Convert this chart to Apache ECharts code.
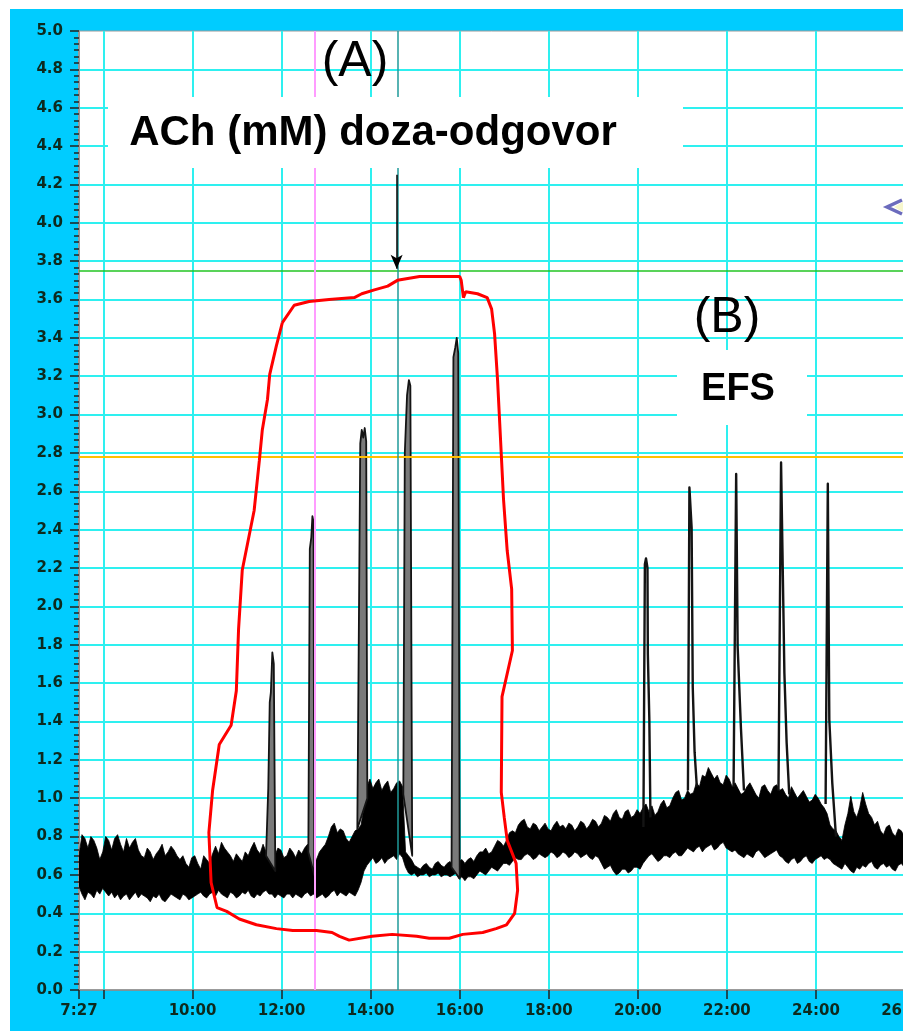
<!DOCTYPE html>
<html>
<head>
<meta charset="utf-8">
<script src="https://cdn.jsdelivr.net/npm/echarts@6/dist/echarts.min.js"></script>
<style>
html,body{margin:0;padding:0;background:#fff;width:903px;height:1031px;overflow:hidden}
#panel{position:absolute;left:10px;top:9px;width:893px;height:1022px;background:#00ccff}
#chart{position:absolute;left:0;top:0;width:903px;height:1031px}
</style>
</head>
<body>
<div id="panel"></div>
<div id="chart"></div>
<script>
// Time axis, seconds from start of recording
const X_MIN = 447, X_MAX = 1560;
const tickTimes = [447, 480, 600, 720, 840, 960, 1080, 1200, 1320, 1440, 1560];
const labelTimes = [447, 600, 720, 840, 960, 1080, 1200, 1320, 1440, 1560];

// Force trace: noise envelope sampled every BAND_DT seconds from BAND_T0
const BAND_T0 = 447, BAND_DT = 4;
const bandHigh = [
  0.70,0.81,0.79,0.74,0.80,0.78,0.74,0.68,0.72,0.80,0.78,0.73,0.79,0.81,0.76,0.72,0.79,0.74,0.77,0.79,
  0.73,0.70,0.69,0.74,0.72,0.68,0.71,0.73,0.76,0.70,0.72,0.75,0.73,0.70,0.68,0.70,0.66,0.64,0.69,0.70,
  0.66,0.63,0.70,0.68,0.66,0.71,0.75,0.71,0.77,0.74,0.72,0.70,0.67,0.71,0.69,0.67,0.72,0.70,0.74,0.77,
  0.73,0.71,0.76,0.72,0.70,0.67,0.70,0.74,0.73,0.69,0.70,0.74,0.72,0.69,0.73,0.71,0.74,0.76,0.72,0.66,
  0.68,0.72,0.74,0.76,0.80,0.85,0.87,0.82,0.84,0.83,0.79,0.77,0.80,0.83,0.84,0.86,0.95,1.06,1.10,1.05,
  1.08,1.10,1.04,1.07,1.09,1.03,1.05,1.08,1.09,1.06,0.72,0.70,0.68,0.65,0.64,0.63,0.65,0.66,0.64,0.63,
  0.66,0.67,0.65,0.64,0.66,0.67,0.65,0.64,0.67,0.68,0.66,0.68,0.69,0.67,0.70,0.72,0.72,0.74,0.71,0.72,
  0.75,0.78,0.77,0.75,0.78,0.82,0.83,0.82,0.86,0.88,0.89,0.85,0.84,0.87,0.86,0.83,0.85,0.87,0.84,0.83,
  0.86,0.88,0.85,0.86,0.84,0.87,0.86,0.83,0.85,0.88,0.87,0.84,0.86,0.89,0.88,0.85,0.87,0.91,0.90,0.88,
  0.92,0.94,0.90,0.89,0.93,0.94,0.90,0.91,0.94,0.92,0.95,0.97,0.93,0.96,0.91,0.93,0.97,0.99,0.95,0.96,
  1.00,1.03,1.04,0.99,1.00,1.04,1.02,1.03,1.08,1.06,1.12,1.11,1.16,1.13,1.10,1.12,1.08,1.07,1.12,1.10,
  1.06,1.08,1.05,1.02,1.03,1.06,1.08,1.05,1.02,1.00,1.06,1.07,1.04,1.02,1.06,1.07,1.04,1.05,1.02,1.00,
  1.06,1.03,1.00,1.02,1.04,1.01,0.98,0.99,1.02,1.00,0.97,0.95,0.92,0.86,0.84,0.83,0.80,0.78,0.86,0.92,
  1.01,0.93,0.90,0.95,1.03,0.97,0.92,0.90,0.86,0.88,0.83,0.81,0.85,0.86,0.82,0.80,0.84,0.83,0.80
];
const bandLow = [
  0.54,0.50,0.47,0.51,0.50,0.48,0.52,0.50,0.53,0.51,0.49,0.51,0.48,0.50,0.47,0.49,0.50,0.47,0.49,0.51,
  0.48,0.50,0.49,0.48,0.46,0.49,0.48,0.50,0.47,0.46,0.48,0.50,0.49,0.48,0.47,0.50,0.49,0.47,0.48,0.49,
  0.50,0.51,0.49,0.48,0.50,0.51,0.49,0.52,0.50,0.49,0.48,0.51,0.50,0.48,0.49,0.51,0.50,0.52,0.49,0.48,
  0.50,0.49,0.51,0.52,0.50,0.50,0.48,0.50,0.49,0.48,0.50,0.50,0.48,0.50,0.49,0.48,0.50,0.51,0.49,0.50,
  0.48,0.49,0.50,0.48,0.49,0.51,0.52,0.49,0.51,0.50,0.49,0.51,0.50,0.49,0.52,0.56,0.62,0.65,0.67,0.69,
  0.66,0.67,0.69,0.66,0.68,0.69,0.70,0.68,0.71,0.69,0.64,0.61,0.60,0.61,0.59,0.60,0.60,0.61,0.59,0.60,
  0.60,0.61,0.59,0.60,0.60,0.59,0.60,0.61,0.58,0.59,0.57,0.59,0.59,0.58,0.60,0.62,0.61,0.60,0.62,0.64,
  0.63,0.62,0.64,0.66,0.66,0.65,0.67,0.69,0.68,0.68,0.70,0.71,0.70,0.68,0.69,0.71,0.70,0.69,0.70,0.72,
  0.71,0.69,0.70,0.72,0.71,0.69,0.70,0.72,0.71,0.69,0.70,0.71,0.69,0.68,0.70,0.69,0.66,0.63,0.64,0.65,
  0.62,0.60,0.61,0.63,0.63,0.61,0.62,0.64,0.64,0.63,0.66,0.68,0.70,0.71,0.69,0.67,0.68,0.70,0.70,0.69,
  0.71,0.72,0.70,0.70,0.72,0.74,0.73,0.72,0.74,0.75,0.72,0.74,0.75,0.76,0.73,0.74,0.76,0.77,0.74,0.73,
  0.72,0.73,0.71,0.70,0.69,0.71,0.70,0.69,0.72,0.73,0.71,0.69,0.70,0.71,0.72,0.73,0.70,0.69,0.67,0.66,
  0.68,0.69,0.66,0.67,0.69,0.70,0.67,0.66,0.68,0.69,0.70,0.68,0.69,0.68,0.66,0.65,0.64,0.63,0.66,0.64,
  0.62,0.61,0.64,0.63,0.65,0.64,0.66,0.67,0.64,0.63,0.65,0.66,0.64,0.65,0.63,0.62,0.65,0.66,0.64
];

// ACh dose-response contractions [time s, force]
const spikeAch1 = [[699,0.70],[702,1.05],[704,1.50],[705.5,1.55],[707.5,1.76],[709.5,1.70],[711.5,0.62]];
const spikeAch2 = [[756,0.72],[758,2.30],[760,2.36],[761.5,2.47],[763,2.44],[764,0.60]];
const spikeAch3 = [[822,0.84],[826,2.85],[828,2.92],[830,2.88],[832,2.93],[834,2.86],[835.5,1.00]];
const spikeAch4 = [[884,1.02],[886,2.80],[889,3.10],[891.5,3.18],[893.5,3.15],[896,0.70]];
const spikeAch5 = [[949,0.64],[951.5,3.30],[954,3.35],[956,3.40],[958,3.32],[960,0.58]];
// EFS contractions
const spikeEfs1 = [[1207.5,0.85],[1209.5,2.22],[1211,2.25],[1213,2.20],[1213.5,1.75],[1215.5,1.41],[1217,0.90]];
const spikeEfs2 = [[1267.5,1.04],[1269.5,2.62],[1272.5,2.41],[1274,1.58],[1276.5,1.24],[1279.5,1.06]];
const spikeEfs3 = [[1329,1.06],[1332.5,2.69],[1334.5,1.79],[1339,1.36],[1343,1.04]];
const spikeEfs4 = [[1389.5,1.04],[1393,2.75],[1397.5,1.65],[1400.5,1.29],[1404,1.02]];
const spikeEfs5 = [[1453,0.97],[1456,2.64],[1458,1.41],[1462,1.08],[1467,0.80]];
const achSpikes = [spikeAch1, spikeAch2, spikeAch3, spikeAch4, spikeAch5];
const efsSpikes = [spikeEfs1, spikeEfs2, spikeEfs3, spikeEfs4, spikeEfs5];

// Hand-drawn outline around the ACh responses [time s, force]
const achOutline = [
  [721,3.48],[737,3.57],[757,3.59],[784,3.60],[818,3.61],[828,3.63],[845,3.65],[863,3.67],
  [876,3.70],[890,3.71],[906,3.72],[933,3.72],[960,3.72],[962,3.70],[965,3.61],[968,3.64],
  [984,3.63],[997,3.61],[1003,3.55],[1007,3.42],[1011,3.18],[1015,2.87],[1019,2.56],[1024,2.29],
  [1030,2.09],[1031,1.77],[1017,1.53],[1016,1.03],[1020,0.90],[1024,0.78],[1036,0.66],[1038,0.52],
  [1034,0.40],[1023,0.34],[1009,0.32],[991,0.30],[964,0.29],[946,0.27],[919,0.27],[902,0.28],
  [869,0.29],[842,0.28],[811,0.26],[798,0.28],[788,0.30],[767,0.31],[735,0.31],[713,0.32],
  [686,0.34],[663,0.37],[646,0.41],[633,0.43],[625,0.56],[622,0.82],[627,1.04],[636,1.28],
  [652,1.38],[659,1.56],[662,1.88],[667,2.19],[683,2.50],[690,2.76],[694,2.92],[701,3.08],
  [704,3.21],[713,3.36],[721,3.48]
];

// Threshold levels and event markers
const levelGreen = 3.745, levelOrange = 2.783;
const eventPink = 764, eventTeal = 877;
const arrowTime = 875, arrowFrom = 4.25, arrowTo = 3.76;

const fmtTime = v => {
  const m = Math.floor(v / 60), s = Math.round(v - m * 60);
  return m + ':' + String(s).padStart(2, '0');
};

const bandT = bandLow.map((_, i) => BAND_T0 + i * BAND_DT);
const bandData = bandT.map((t, i) => [t, bandLow[i], bandHigh[i]]);
const labelFont = { fontFamily: 'DejaVu Sans', fontSize: 15, fontWeight: 'bold', color: '#0d2a1e' };

// Filled noise envelope: one polygon through the upper edge and back along the lower edge
function renderBand(params, api) {
  if (params.dataIndex !== 0) return null;
  const pts = [];
  for (let i = 0; i < bandData.length; i++) pts.push(api.coord([bandData[i][0], bandData[i][2]]));
  for (let i = bandData.length - 1; i >= 0; i--) pts.push(api.coord([bandData[i][0], bandData[i][1]]));
  return {
    type: 'polygon',
    shape: { points: pts },
    style: { fill: '#000', stroke: '#000', lineWidth: 0.8 }
  };
}

// ACh contractions: up- and down-strokes outlined, the gap between them shaded grey
function renderAch(params, api) {
  const s = achSpikes[params.dataIndex];
  return {
    type: 'polygon',
    shape: { points: s.map(p => api.coord(p)) },
    style: { fill: '#7a7a7a', stroke: '#141414', lineWidth: 1.8, lineJoin: 'round' }
  };
}
// EFS contractions: a single up-and-down stroke
function renderEfs(params, api) {
  const s = efsSpikes[params.dataIndex];
  return {
    type: 'polyline',
    shape: { points: s.map(p => api.coord(p)) },
    style: { fill: null, stroke: '#141414', lineWidth: 2.4, lineJoin: 'round' }
  };
}

const series = [
  {
    type: 'custom', z: 3, renderItem: renderBand, clip: true,
    encode: { x: 0, y: [1, 2] },
    data: bandData
  },
  {
    type: 'custom', z: 4, renderItem: renderAch, clip: true,
    encode: { x: 0, y: 1 },
    data: achSpikes.map(s => s[0])
  },
  {
    type: 'custom', z: 4, renderItem: renderEfs, clip: true,
    encode: { x: 0, y: 1 },
    data: efsSpikes.map(s => s[0])
  },
  {
    type: 'line', symbol: 'none', z: 5, data: achOutline,
    lineStyle: { color: '#ff0000', width: 3 }
  },
  {
    type: 'line', data: [], z: 2,
    markLine: {
      silent: true, symbol: 'none', label: { show: false },
      lineStyle: { type: 'solid' },
      data: [
        { yAxis: levelGreen, lineStyle: { color: '#22c422', width: 1.5, type: 'solid' } },
        { yAxis: levelOrange, lineStyle: { color: '#ffc000', width: 2, type: 'solid' } },
        { xAxis: eventPink, lineStyle: { color: '#ff9cff', width: 2, type: 'solid' } },
        { xAxis: eventTeal, lineStyle: { color: '#1f9a9a', width: 1.5, type: 'solid' } }
      ]
    }
  },
  {
    type: 'line', data: [], z: 6,
    markLine: {
      silent: true, symbol: ['none', 'arrow'], symbolSize: [9, 14],
      label: { show: false },
      lineStyle: { color: '#000', width: 1.5, type: 'solid' },
      data: [[{ coord: [arrowTime, arrowFrom] }, { coord: [arrowTime, arrowTo] }]]
    }
  }
];

const chart = echarts.init(document.getElementById('chart'), null, { renderer: 'canvas' });
chart.setOption({
  animation: false,
  backgroundColor: 'transparent',
  grid: {
    left: 79, top: 31, right: -2, bottom: 41,
    containLabel: false, outerBoundsMode: 'none',
    show: true, backgroundColor: '#fff', borderColor: '#9a9a9a', borderWidth: 1
  },
  xAxis: {
    type: 'value', min: X_MIN, max: X_MAX,
    axisLine: { show: true, lineStyle: { color: '#8a8a8a', width: 1.5 } },
    axisTick: { show: true, customValues: tickTimes, length: 9, lineStyle: { color: '#222', width: 1.5 } },
    axisLabel: Object.assign({ customValues: labelTimes, formatter: fmtTime, margin: 14, showMaxLabel: true }, labelFont),
    splitLine: { show: true, showMinLine: false, lineStyle: { color: '#2ef0f0', width: 2 } }
  },
  yAxis: {
    type: 'value', min: 0, max: 5, interval: 0.2,
    axisLine: { show: true, lineStyle: { color: '#999', width: 2 } },
    axisTick: { show: true, length: 9, lineStyle: { color: '#222', width: 1.5 } },
    minorTick: { show: true, splitNumber: 6, length: 5, lineStyle: { color: '#222', width: 1.5 } },
    axisLabel: Object.assign({ formatter: v => v.toFixed(1), margin: 16 }, labelFont),
    splitLine: { show: true, showMinLine: false, showMaxLine: false, lineStyle: { color: '#2ef0f0', width: 2 } }
  },
  graphic: [
    { type: 'rect', z: 20, shape: { x: 108, y: 97, width: 575, height: 71 }, style: { fill: '#fff' } },
    { type: 'rect', z: 20, shape: { x: 677, y: 350, width: 130, height: 75 }, style: { fill: '#fff' } },
    { type: 'text', z: 21, x: 373, y: 133, style: { text: 'ACh (mM) doza-odgovor', font: 'bold 42px "Liberation Sans"', fill: '#000', align: 'center', verticalAlign: 'middle' } },
    { type: 'text', z: 21, x: 355, y: 62, style: { text: '(A)', font: '50px "Liberation Sans"', fill: '#000', align: 'center', verticalAlign: 'middle' } },
    { type: 'text', z: 21, x: 727, y: 318, style: { text: '(B)', font: '50px "Liberation Sans"', fill: '#000', align: 'center', verticalAlign: 'middle' } },
    { type: 'text', z: 21, x: 738, y: 390, style: { text: 'EFS', font: 'bold 38px "Liberation Sans"', fill: '#000', align: 'center', verticalAlign: 'middle' } },
    { type: 'polygon', z: 21, shape: { points: [[894, 207], [903, 202], [903, 212]] }, style: { fill: '#f6f6cc' } },
    { type: 'polyline', z: 22, shape: { points: [[902, 200], [887, 207], [902, 214]] }, style: { stroke: '#6b6bbd', lineWidth: 3.5, fill: null } }
  ],
  series: series
});
</script>
</body>
</html>
